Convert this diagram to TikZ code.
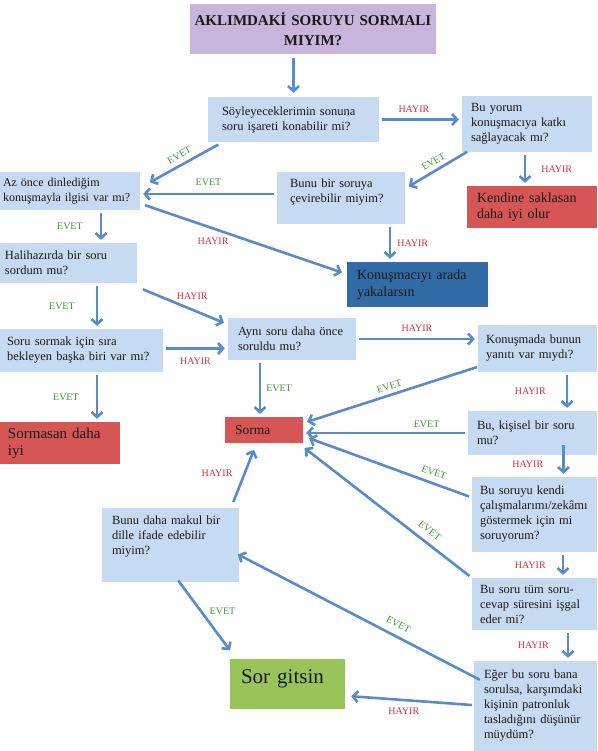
\documentclass[tikz,border=0pt]{standalone}
\usepackage{fontspec}
\setmainfont{Liberation Serif}
\usepackage{tikz}
\usetikzlibrary{
  positioning,
  arrows.meta
}
\hyphenpenalty=10000
\definecolor{qblue}{RGB}{198,218,241}
\definecolor{qred}{RGB}{214,86,86}
\definecolor{qdark}{RGB}{50,108,166}
\definecolor{qpurple}{RGB}{200,181,219}
\definecolor{qgreen}{RGB}{152,196,90}
\definecolor{oklar}{RGB}{88,139,201}
\definecolor{evetyesil}{RGB}{64,150,56}
\definecolor{hayirkirmizi}{RGB}{222,44,56}
\definecolor{yazi}{RGB}{25,25,25}
\newcommand{\altbosluk}[1]{\rule[-#1pt]{0pt}{#1pt}}
\tikzset{
  >={Straight Barb[length=5pt,width=11pt]},
  flowarrow/.style={->,line width=2.6pt,draw=oklar,shorten <=3pt,shorten >=3pt},
  boxsize/.style n args={3}{minimum width=#1,minimum height=#2,inner xsep=#3,text width=#1-2*#3},
  qbox/.style={rectangle,fill=qblue,align=left,inner ysep=2pt,text=yazi,font=\fontsize{12.5}{15}\selectfont},
  redbox/.style={qbox,fill=qred,font=\fontsize{14}{16.5}\selectfont},
  darkbox/.style={qbox,fill=qdark,font=\fontsize{14}{17}\selectfont},
  gobox/.style={qbox,fill=qgreen,font=\fontsize{21}{24}\selectfont},
  titlebox/.style={rectangle,fill=qpurple,align=center,text=yazi,font=\bfseries\fontsize{15}{20}\selectfont},
  evet/.style={font=\fontsize{10}{12}\selectfont,text=evetyesil,inner sep=1pt},
  hayir/.style={font=\fontsize{10}{12}\selectfont,text=hayirkirmizi,inner sep=1pt}
}

\begin{document}
\begin{tikzpicture}[x=1pt,y=-1pt]
    \useasboundingbox (0,0) rectangle (597,751);

    % Baslik ve sorular
    \node[titlebox,boxsize={246}{50}{4}] (baslik) at (313,29) {AKLIMDAKİ SORUYU SORMALI\\MIYIM?};
    \node[qbox,boxsize={171}{45}{14}] (isaret) at (293.5,119.5) {Söyleyeceklerimin sonuna\\soru işareti konabilir mi?};
    \node[qbox,boxsize={130}{56}{9}] (katki) at (527,124) {Bu yorum\\konuşmacıya katkı\\sağlayacak mı?\altbosluk{4}};
    \node[qbox,boxsize={140}{38}{3},font=\fontsize{12}{15}\selectfont] (ilgi) at (70,191) {Az önce dinlediğim\\konuşmayla ilgisi var mı?};
    \node[qbox,boxsize={128}{52}{13}] (cevir) at (341,198) {Bunu bir soruya\\çevirebilir miyim?\altbosluk{14}};
    \node[qbox,boxsize={137}{40}{5}] (halihazir) at (68.5,263) {Halihazırda bir soru\\sordum mu?};
    \node[qbox,boxsize={163}{43}{7}] (sira) at (81.5,350.5) {Soru sormak için sıra\\bekleyen başka biri var mı?};
    \node[qbox,boxsize={128}{42}{10}] (ayni) at (292,339) {Aynı soru daha önce\\soruldu mu?};
    \node[qbox,boxsize={119}{47}{8}] (yanit) at (537.5,348.5) {Konuşmada bunun\\yanıtı var mıydı?};
    \node[qbox,boxsize={129}{44}{9}] (kisisel) at (532.5,433) {Bu, kişisel bir soru\\mu?};
    \node[qbox,boxsize={125}{75}{8}] (zeka) at (534.5,514.5) {Bu soruyu kendi\\çalışmalarımı/zekâmı\\göstermek için mi\\soruyorum?};
    \node[qbox,boxsize={137}{74}{10}] (makul) at (170.5,545) {Bunu daha makul bir\\dille ifade edebilir\\miyim?\altbosluk{20}};
    \node[qbox,boxsize={125}{52}{8}] (sure) at (534.5,604) {Bu soru tüm soru-\\cevap süresini işgal\\eder mi?};
    \node[qbox,boxsize={123}{90}{10}] (patron) at (535.5,706) {Eğer bu soru bana\\sorulsa, karşımdaki\\kişinin patronluk\\tasladığını düşünür\\müydüm?};

    % Sonuclar
    \node[redbox,boxsize={130}{42}{10}] (sakla) at (532,207) {Kendine saklasan\\daha iyi olur};
    \node[darkbox,boxsize={141}{45}{10}] (yakala) at (417.5,284.5) {Konuşmacıyı arada\\yakalarsın};
    \node[redbox,boxsize={120}{42}{8},font=\fontsize{15}{17}\selectfont] (sormasan) at (60,443) {Sormasan daha\\iyi};
    \node[redbox,boxsize={78}{26}{10},font=\fontsize{13.5}{16}\selectfont] (sorma) at (264,430) {Sorma};
    \node[gobox,boxsize={115}{50}{11}] (sorgitsin) at (287.5,684) {Sor gitsin\altbosluk{14}};

    % Oklar
    \draw[flowarrow,shorten <=4pt,shorten >=4pt] (isaret.north |- baslik.south) -- (isaret.north);
    \draw[flowarrow] (isaret.east) -- (isaret.east -| katki.west) node[hayir,pos=0.42,above=5pt] {HAYIR};
    \draw[flowarrow] ([shift={(13,1)}]isaret.south west) -- ([shift={(7,12)}]ilgi.north east) node[evet,midway,sloped,above=4pt] {EVET};
    \draw[flowarrow] ([shift={(8,-2)}]katki.south west) -- ([shift={(1,-10)}]cevir.east) node[evet,midway,sloped,above=3pt] {EVET};
    \draw[flowarrow] ([xshift=-2]katki.south) -- ([xshift=-2]katki.south |- sakla.north) node[hayir,midway,right=14pt] {HAYIR};
    \draw[flowarrow] ([yshift=4]cevir.west) -- ([yshift=4]cevir.west -| ilgi.east) node[evet,midway,above=6pt] {EVET};
    \draw[flowarrow] ([xshift=49]cevir.south) -- ([xshift=49]cevir.south |- yakala.north) node[hayir,midway,right=5pt] {HAYIR};
    \draw[flowarrow] ([shift={(2,-6)}]ilgi.south east) -- ([shift={(-2,-11)}]yakala.west) node[hayir,pos=0.35,below=7pt] {HAYIR};
    \draw[flowarrow] ([xshift=31]ilgi.south) -- ([xshift=31]ilgi.south |- halihazir.north) node[evet,midway,left=16pt] {EVET};
    \draw[flowarrow] ([xshift=28.5]halihazir.south) -- ([xshift=28.5]halihazir.south |- sira.north) node[evet,midway,left=20pt] {EVET};
    \draw[flowarrow] ([shift={(3,5)}]halihazir.south east) -- ([shift={(-1,-15)}]ayni.west) node[hayir,pos=0.6,above=8pt] {HAYIR};
    \draw[flowarrow] ([yshift=2]sira.east) -- ([yshift=2]sira.east -| ayni.west) node[hayir,midway,below=7pt] {HAYIR};
    \draw[flowarrow] ([xshift=15.5]sira.south) -- ([xshift=15.5]sira.south |- sormasan.north) node[evet,midway,left=16pt] {EVET};
    \draw[flowarrow] (ayni.east) -- (ayni.east -| yanit.west) node[hayir,midway,above=5pt] {HAYIR};
    \draw[flowarrow] ([xshift=-32]ayni.south) -- ([xshift=-32]ayni.south |- sorma.north) node[evet,midway,right=4pt] {EVET};
    \draw[flowarrow] ([shift={(2,-6)}]yanit.south west) -- ([shift={(1,6)}]sorma.north east) node[evet,midway,sloped,above=3pt] {EVET};
    \draw[flowarrow] ([xshift=29.5]yanit.south) -- ([xshift=29.5]yanit.south |- kisisel.north) node[hayir,midway,left=19pt] {HAYIR};
    \draw[flowarrow] (kisisel.west) -- (kisisel.west -| sorma.east) node[evet,pos=0.25,above=3pt] {EVET};
    \draw[flowarrow,shorten <=0pt] ([shift={(31,-10)}]kisisel.south) -- ([xshift=31]kisisel.south |- zeka.north) node[hayir,pos=0.6,left=18pt] {HAYIR};
    \draw[flowarrow] ([shift={(0,-17)}]zeka.west) -- ([shift={(3,-6)}]sorma.south east) node[evet,pos=0.25,sloped,above=5pt] {EVET};
    \draw[flowarrow] (sure.north west) -- ([shift={(-1,3)}]sorma.south east) node[evet,pos=0.29,sloped,above=6pt] {EVET};
    \draw[flowarrow] ([xshift=28.5]zeka.south) -- ([xshift=28.5]zeka.south |- sure.north) node[hayir,midway,left=15pt] {HAYIR};
    \draw[flowarrow] ([xshift=33.5]sure.south) -- ([xshift=33.5]sure.south |- patron.north) node[hayir,midway,left=17pt] {HAYIR};
    \draw[flowarrow,shorten <=0pt] ([shift={(-2,-1)}]patron.west) -- ([shift={(3,12)}]sorgitsin.east) node[hayir,pos=0.55,below=6pt] {HAYIR};
    \draw[flowarrow,shorten <=0pt] ([shift={(6,19)}]patron.north west) -- ([shift={(-4,8)}]makul.east) node[evet,pos=0.355,sloped,above=6pt] {EVET};
    \draw[flowarrow] ([shift={(-7,-3)}]makul.north east) -- ([shift={(-9,4)}]sorma.south) node[hayir,pos=0.55,left=10pt] {HAYIR};
    \draw[flowarrow] ([shift={(6,-4)}]makul.south) -- ([shift={(2,-6)}]sorgitsin.north west) node[evet,pos=0.45,right=6pt] {EVET};
\end{tikzpicture}
\end{document}
